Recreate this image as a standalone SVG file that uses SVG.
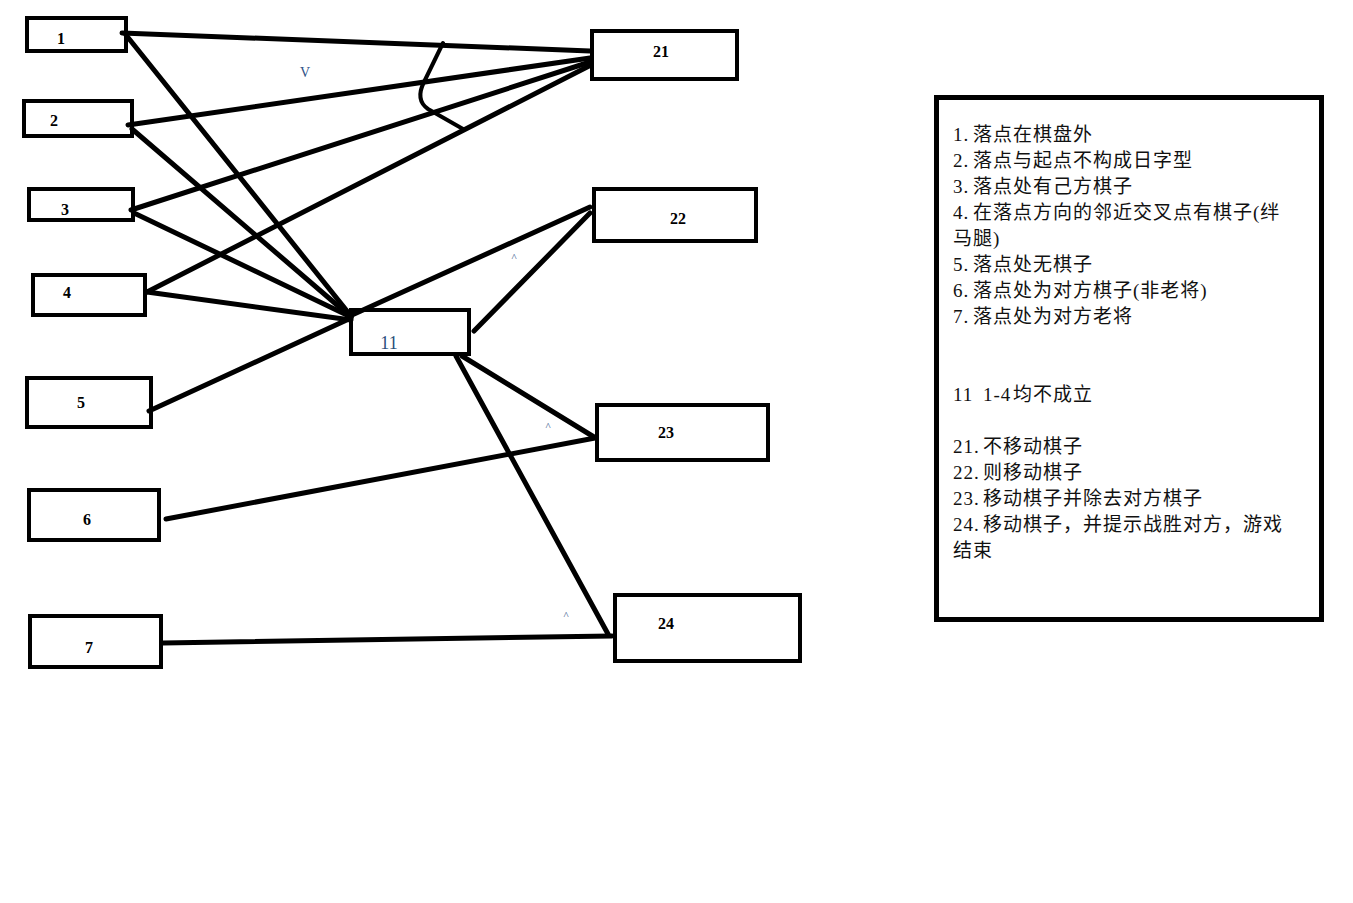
<svg xmlns="http://www.w3.org/2000/svg" width="1353" height="903" viewBox="0 0 1353 903">
  <style>
    .box { fill: #ffffff; stroke: #000000; stroke-width: 4; }
    .num { font-family: "Liberation Serif", "Times New Roman", serif; font-size: 16px; font-weight: bold; fill: #000000; text-anchor: middle; }
    .wire { fill: none; stroke: #000000; stroke-width: 5; stroke-linecap: round; stroke-linejoin: round; }
    .note { font-family: "Liberation Serif", "Noto Sans CJK SC", serif; font-size: 19px; letter-spacing: 1px; fill: #111111; }
    .mark { font-family: "Liberation Serif", serif; fill: #2d4f86; }
  </style>
  <rect x="0" y="0" width="1353" height="903" fill="#ffffff"/>

  <!-- condition nodes -->
  <g id="n1"><rect class="box" x="27" y="18" width="99" height="33"/><text class="num" x="61" y="44">1</text></g>
  <g id="n2"><rect class="box" x="24" y="101" width="108" height="35"/><text class="num" x="54" y="126">2</text></g>
  <g id="n3"><rect class="box" x="29" y="189" width="104" height="31"/><text class="num" x="65" y="215">3</text></g>
  <g id="n4"><rect class="box" x="33" y="275" width="112" height="40"/><text class="num" x="67" y="298">4</text></g>
  <g id="n5"><rect class="box" x="27" y="378" width="124" height="49"/><text class="num" x="81" y="408">5</text></g>
  <g id="n6"><rect class="box" x="29" y="490" width="130" height="50"/><text class="num" x="87" y="525">6</text></g>
  <g id="n7"><rect class="box" x="30" y="616" width="131" height="51"/><text class="num" x="89" y="653">7</text></g>

  <!-- combined check node -->
  <g id="n11"><rect class="box" x="351" y="310" width="118" height="44"/><text class="num" x="389" y="349" style="fill:#2a4f7a;font-weight:normal;font-size:18px">11</text></g>

  <!-- result nodes -->
  <g id="n21"><rect class="box" x="592" y="31" width="145" height="48"/><text class="num" x="661" y="57">21</text></g>
  <g id="n22"><rect class="box" x="594" y="189" width="162" height="52"/><text class="num" x="678" y="224">22</text></g>
  <g id="n23"><rect class="box" x="597" y="405" width="171" height="55"/><text class="num" x="666" y="438">23</text></g>
  <g id="n24"><rect class="box" x="615" y="595" width="185" height="66"/><text class="num" x="666" y="629">24</text></g>

  <!-- connectors -->
  <g id="connectors">
    <line class="wire" x1="122" y1="33" x2="590" y2="51"/>
    <line class="wire" x1="128" y1="125" x2="590" y2="58"/>
    <line class="wire" x1="131" y1="210" x2="590" y2="62"/>
    <line class="wire" x1="147" y1="292" x2="591" y2="65"/>
    <line class="wire" x1="126" y1="35" x2="351" y2="316"/>
    <line class="wire" x1="132" y1="129" x2="351" y2="317"/>
    <line class="wire" x1="134" y1="213" x2="351" y2="317"/>
    <line class="wire" x1="147" y1="292" x2="351" y2="320"/>
    <line class="wire" x1="149" y1="411" x2="351" y2="318"/>
    <line class="wire" x1="352" y1="315" x2="590" y2="207"/>
    <line class="wire" x1="474" y1="331" x2="590" y2="213"/>
    <line class="wire" x1="462" y1="356" x2="594" y2="437"/>
    <line class="wire" x1="456" y1="356" x2="608" y2="634"/>
    <line class="wire" x1="166" y1="519" x2="595" y2="438"/>
    <line class="wire" x1="163" y1="643" x2="612" y2="636"/>
    <!-- hand-drawn bracket across the lines into 21 -->
    <path class="wire" style="stroke-width:4" d="M443,43 L424,82 Q415,100 428,109 L463,129"/>
  </g>

  <!-- small pen marks -->
  <text class="mark" x="305" y="77" font-size="14" text-anchor="middle">V</text>
  <text class="mark" x="514" y="261" font-size="11" text-anchor="middle">^</text>
  <text class="mark" x="548" y="430" font-size="11" text-anchor="middle">^</text>
  <text class="mark" x="566" y="619" font-size="11" text-anchor="middle">^</text>

  <!-- legend -->
  <g id="legend">
    <rect x="936.5" y="97.5" width="385" height="522" fill="#ffffff" stroke="#000000" stroke-width="5"/>
    <text class="note" x="953" y="141">1.<tspan x="973">落点在棋盘外</tspan></text>
    <text class="note" x="953" y="167">2.<tspan x="973">落点与起点不构成日字型</tspan></text>
    <text class="note" x="953" y="193">3.<tspan x="973">落点处有己方棋子</tspan></text>
    <text class="note" x="953" y="219">4.<tspan x="973">在落点方向的邻近交叉点有棋子(绊</tspan></text>
    <text class="note" x="953" y="245">马腿)</text>
    <text class="note" x="953" y="271">5.<tspan x="973">落点处无棋子</tspan></text>
    <text class="note" x="953" y="297">6.<tspan x="973">落点处为对方棋子(非老将)</tspan></text>
    <text class="note" x="953" y="323">7.<tspan x="973">落点处为对方老将</tspan></text>
    <text class="note" x="953" y="401">11<tspan x="983">1-4</tspan><tspan x="1013">均不成立</tspan></text>
    <text class="note" x="953" y="453">21.<tspan x="983">不移动棋子</tspan></text>
    <text class="note" x="953" y="479">22.<tspan x="983">则移动棋子</tspan></text>
    <text class="note" x="953" y="505">23.<tspan x="983">移动棋子并除去对方棋子</tspan></text>
    <text class="note" x="953" y="531">24.<tspan x="983">移动棋子，并提示战胜对方，游戏</tspan></text>
    <text class="note" x="953" y="557">结束</text>
  </g>
</svg>
